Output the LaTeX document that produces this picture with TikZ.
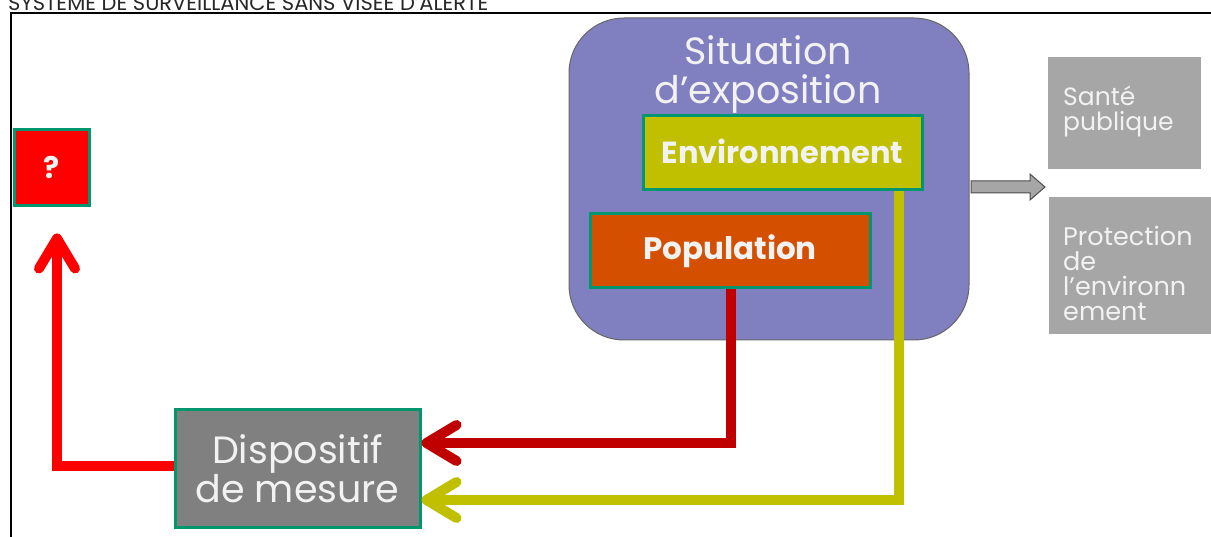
\documentclass[tikz,border=0pt]{standalone}
\usepackage{fontspec}
\setmainfont{Poppins}
\usetikzlibrary{arrows.meta}
\definecolor{purplebg}{RGB}{128,128,192}
\definecolor{envc}{RGB}{192,192,0}
\definecolor{popc}{RGB}{212,80,0}
\definecolor{greenb}{RGB}{0,150,110}
\definecolor{darkredc}{RGB}{192,0,0}
\definecolor{redc}{RGB}{255,0,0}
\definecolor{greyc}{RGB}{128,128,128}
\definecolor{lightgreyc}{RGB}{166,166,166}
\definecolor{txtw}{RGB}{242,242,242}
\tikzset{
  gbox/.style={draw=greenb, line width=3pt, inner sep=0pt, text=txtw, align=center},
  flow/.style={line width=10pt, -{Straight Barb[round,length=30pt,width=36pt]}},
  sidebox/.style={fill=lightgreyc, inner sep=0pt, text=txtw},
}
\begin{document}
\begin{tikzpicture}[x=1pt,y=-1pt]
\useasboundingbox (0,0) rectangle (1211,537);
% title and frame
\node[anchor=base west, inner sep=0pt, font=\fontsize{21}{21}\selectfont, text=black!85] (title) at (8,10.5) {SYSTEME DE SURVEILLANCE SANS VISEE D’ALERTE};
\draw[line width=2pt] (11,537) -- (11,13.5) -- (1215,13.5);
% purple rounded box
\node[draw=black!60, line width=1pt, fill=purplebg, rounded corners=55pt, minimum width=400, minimum height=322, inner sep=0pt] (sit) at (769,179) {};
\node[text=txtw, align=center, font=\fontsize{38}{39}\selectfont, inner sep=0pt] (sittxt) at (768,74) {Situation\\d’exposition};
\node[gbox, fill=envc, minimum width=279, minimum height=74, font=\fontsize{30.5}{30.5}\selectfont\bfseries] (env) at (782.5,153) {\raisebox{3pt}{Environnement}};
\node[gbox, fill=popc, minimum width=280, minimum height=74, font=\fontsize{31}{31}\selectfont\bfseries] (pop) at (730,251) {Population};
% dispositif
\node[gbox, fill=greyc, minimum width=245, minimum height=117, font=\fontsize{38}{36}\selectfont] (disp) at (297.5,468.5) {Dispositif\\de mesure};
% question box
\node[gbox, fill=redc, minimum width=75, minimum height=76, font=\fontsize{30}{30}\selectfont\bfseries] (q) at (51.5,168) {?};
% side boxes
\node[sidebox, minimum width=153, minimum height=112] (sante) at (1124.5,113) {};
\node[anchor=north west, inner sep=0pt, text=txtw, align=left, font=\fontsize{25}{25}\selectfont] (santetxt) at (1063,86) {Santé\\publique};
\node[sidebox, minimum width=163, minimum height=137] (prot) at (1130.5,265.5) {};
\node[anchor=north west, inner sep=0pt, text=txtw, align=left, font=\fontsize{25.5}{25}\selectfont] (prottxt) at (1063,226) {Protection\\de\\l’environn\\ement};
% grey block arrow
\draw[draw=black!70, line width=1pt, fill=lightgreyc] (971,181) -- (1030,181) -- (1030,174) -- (1045,187) -- (1030,200) -- (1030,193) -- (971,193) -- cycle;
% connectors
\draw[flow, darkredc] ([xshift=1pt]pop.south) |- ([yshift=25.5pt]disp.east);
\draw[flow, envc] ([xshift=-25pt]env.south east) |- ([yshift=-31.5pt]disp.east);
\draw[flow, redc] ([yshift=2.5pt]disp.west) -| ([xshift=5.5pt,yshift=-26pt]q.south);
\end{tikzpicture}
\end{document}
